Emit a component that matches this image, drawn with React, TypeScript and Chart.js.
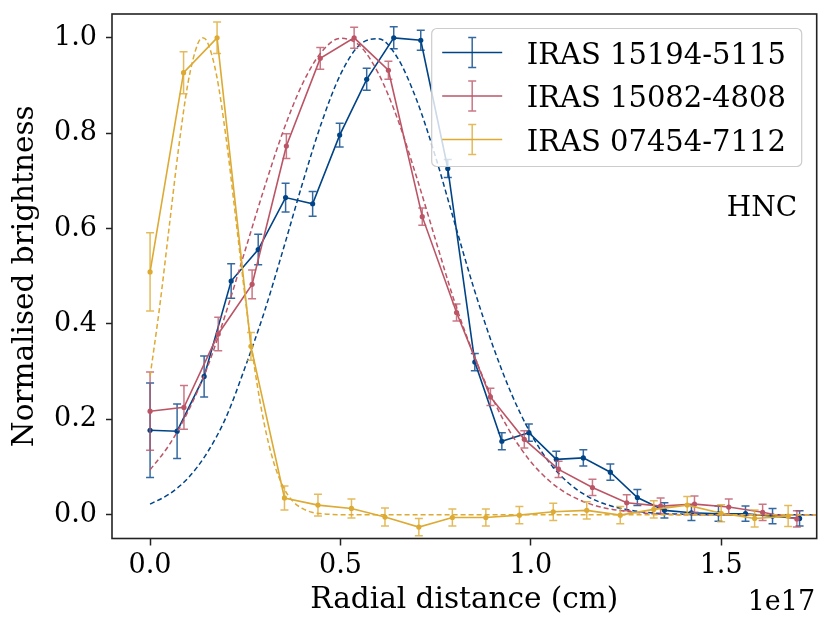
import React, { useEffect, useRef } from 'react';
import { Chart, registerables } from 'chart.js';

Chart.register(...registerables);

const FONT = "'DejaVu Serif', 'Liberation Serif', serif";

const seriesNames = ['IRAS 15194-5115', 'IRAS 15082-4808', 'IRAS 07454-7112'];
const seriesColors = ['#004488', '#BB5566', '#DDAA33'];
const errorColors = ['rgba(0,68,136,0.8)', 'rgba(187,85,102,0.8)', 'rgba(221,170,51,0.8)'];

const xTicks = [0, 0.5, 1.0, 1.5];
const yTicks = [0, 0.2, 0.4, 0.6, 0.8, 1.0];

// measured profiles (x in units of 1e17 cm)
const blueX = [0, 0.071, 0.142, 0.213, 0.284, 0.356, 0.427, 0.498, 0.569, 0.640, 0.711, 0.782, 0.853,
  0.924, 0.995, 1.067, 1.138, 1.209, 1.280, 1.351, 1.422, 1.493, 1.564, 1.635, 1.706];
const blueY = [0.177, 0.175, 0.29, 0.49, 0.556, 0.665, 0.652, 0.796, 0.913, 1.0, 0.995, 0.726, 0.32,
  0.154, 0.172, 0.116, 0.119, 0.089, 0.036, 0.009, 0.004, 0.002, 0.002, -0.003, -0.008];
const blueErr = [0.099, 0.057, 0.043, 0.036, 0.032, 0.030, 0.026, 0.025, 0.023, 0.023, 0.021, 0.019, 0.018,
  0.018, 0.018, 0.017, 0.017, 0.017, 0.017, 0.016, 0.016, 0.016, 0.016, 0.016, 0.016];

const redX = [0, 0.089, 0.179, 0.268, 0.358, 0.447, 0.536, 0.626, 0.715, 0.805, 0.894, 0.983, 1.073,
  1.162, 1.252, 1.341, 1.430, 1.520, 1.609, 1.699];
const redY = [0.217, 0.225, 0.379, 0.483, 0.773, 0.957, 1.0, 0.932, 0.625, 0.424, 0.247, 0.158, 0.095,
  0.057, 0.025, 0.018, 0.022, 0.016, 0.005, -0.009];
const redErr = [0.082, 0.046, 0.035, 0.030, 0.026, 0.023, 0.022, 0.019, 0.018, 0.018, 0.018, 0.018, 0.017,
  0.017, 0.017, 0.017, 0.017, 0.017, 0.017, 0.017];

const yellowX = [0, 0.088, 0.176, 0.265, 0.353, 0.441, 0.529, 0.617, 0.706, 0.794, 0.882, 0.970, 1.059,
  1.147, 1.235, 1.323, 1.411, 1.500, 1.588, 1.676];
const yellowY = [0.509, 0.927, 1.0, 0.353, 0.035, 0.020, 0.013, -0.005, -0.026, -0.006, -0.006, -0.001, 0.006,
  0.009, -0.001, 0.011, 0.020, 0.003, -0.008, -0.003];
const yellowErr = [0.082, 0.044, 0.033, 0.029, 0.025, 0.023, 0.020, 0.019, 0.018, 0.018, 0.018, 0.018, 0.018,
  0.018, 0.018, 0.018, 0.018, 0.018, 0.018, 0.022];

// dashed fits
const fitX = [0, 0.05, 0.1, 0.15, 0.2, 0.25, 0.3, 0.35, 0.4, 0.45, 0.5, 0.55, 0.6, 0.65, 0.7, 0.75, 0.8,
  0.85, 0.9, 0.95, 1.0, 1.05, 1.1, 1.15, 1.2, 1.25, 1.3, 1.35, 1.4, 1.45, 1.5, 1.55, 1.6, 1.65, 1.7, 1.75, 1.8];
const blueFit = [0.022, 0.043, 0.077, 0.13, 0.205, 0.31, 0.425, 0.557, 0.694, 0.821, 0.923, 0.985, 0.998,
  0.958, 0.870, 0.750, 0.612, 0.476, 0.355, 0.252, 0.170, 0.108, 0.066, 0.038, 0.021, 0.011, 0.005, 0.002,
  0.001, 0, 0, 0, 0, 0, 0, 0, 0];
const redFit = [0.094, 0.146, 0.217, 0.308, 0.425, 0.555, 0.685, 0.805, 0.903, 0.970, 0.999, 0.984, 0.925,
  0.830, 0.708, 0.576, 0.446, 0.336, 0.243, 0.168, 0.111, 0.070, 0.042, 0.024, 0.013, 0.007, 0.003, 0.001,
  0, 0, 0, 0, 0, 0, 0, 0, 0];
const yellowFitX = [0, 0.025, 0.05, 0.075, 0.1, 0.125, 0.1375, 0.15, 0.175, 0.2, 0.225, 0.25, 0.275, 0.3,
  0.325, 0.35, 0.375, 0.4, 0.425, 0.45, 0.5, 0.6, 1.0, 1.8];
const yellowFit = [0.290, 0.435, 0.602, 0.769, 0.907, 0.987, 1.0, 0.992, 0.920, 0.788, 0.622, 0.454, 0.305,
  0.190, 0.109, 0.058, 0.028, 0.013, 0.005, 0.002, 0, 0, 0, 0];

const toPts = (xs: number[], ys: number[]) => xs.map((x, i) => ({ x, y: ys[i] }));

const errorBars = {
  id: 'errorBars',
  beforeDatasetDraw(chart: any, args: any) {
    const ds = chart.data.datasets[args.index];
    if (!ds.errors) return;
    const { ctx, chartArea } = chart;
    const yScale = chart.scales.y;
    ctx.save();
    ctx.beginPath();
    ctx.rect(chartArea.left, chartArea.top, chartArea.right - chartArea.left, chartArea.bottom - chartArea.top);
    ctx.clip();
    ctx.strokeStyle = ds.errorColor;
    ctx.lineWidth = 1.5;
    args.meta.data.forEach((pt: any, i: number) => {
      const v = ds.data[i].y;
      const e = ds.errors[i];
      const y1 = yScale.getPixelForValue(v - e);
      const y2 = yScale.getPixelForValue(v + e);
      ctx.beginPath();
      ctx.moveTo(pt.x, y1);
      ctx.lineTo(pt.x, y2);
      ctx.moveTo(pt.x - 4, y1);
      ctx.lineTo(pt.x + 4, y1);
      ctx.moveTo(pt.x - 4, y2);
      ctx.lineTo(pt.x + 4, y2);
      ctx.stroke();
    });
    ctx.restore();
  },
};

const decorations = {
  id: 'decorations',
  afterDatasetsDraw(chart: any) {
    const { ctx, chartArea: a } = chart;
    ctx.save();
    ctx.strokeStyle = '#222';
    ctx.lineWidth = 1.6;
    ctx.strokeRect(a.left, a.top, a.right - a.left, a.bottom - a.top);
    ctx.restore();
  },
  afterDraw(chart: any) {
    const { ctx, chartArea: a } = chart;
    ctx.save();
    // legend box
    const bx = a.right - 385;
    const by = a.top + 14.5;
    const bw = 370;
    const bh = 138;
    ctx.beginPath();
    ctx.roundRect(bx, by, bw, bh, 5);
    ctx.fillStyle = 'rgba(255,255,255,0.8)';
    ctx.fill();
    ctx.strokeStyle = '#cccccc';
    ctx.lineWidth = 1.2;
    ctx.stroke();
    ctx.font = `29px ${FONT}`;
    ctx.textBaseline = 'alphabetic';
    ctx.textAlign = 'left';
    seriesNames.forEach((name, i) => {
      const y = by + 24 + i * 43.5;
      const lx = bx + 10.5;
      ctx.strokeStyle = seriesColors[i];
      ctx.lineWidth = 1.6;
      ctx.beginPath();
      ctx.moveTo(lx, y);
      ctx.lineTo(lx + 60, y);
      ctx.stroke();
      ctx.strokeStyle = errorColors[i];
      ctx.lineWidth = 1.5;
      ctx.beginPath();
      ctx.moveTo(lx + 30, y - 15);
      ctx.lineTo(lx + 30, y + 15);
      ctx.moveTo(lx + 26, y - 15);
      ctx.lineTo(lx + 34, y - 15);
      ctx.moveTo(lx + 26, y + 15);
      ctx.lineTo(lx + 34, y + 15);
      ctx.stroke();
      ctx.fillStyle = '#000';
      ctx.fillText(name, bx + 95, y + 11);
    });
    // annotation and offset text
    ctx.fillStyle = '#000';
    ctx.textAlign = 'right';
    ctx.font = `28px ${FONT}`;
    ctx.fillText('HNC', a.right - 19.5, a.top + 202);
    ctx.font = `27px ${FONT}`;
    ctx.fillText('1e17', a.right - 1.5, 609.5);
    ctx.restore();
  },
};

export default function App() {
  const ref = useRef<HTMLCanvasElement | null>(null);

  useEffect(() => {
    if (!ref.current) return;

    const dataSet = (i: number, xs: number[], ys: number[], errs: number[], order: number) => ({
      label: seriesNames[i],
      data: toPts(xs, ys),
      errors: errs,
      errorColor: errorColors[i],
      borderColor: seriesColors[i],
      backgroundColor: seriesColors[i],
      borderWidth: 1.6,
      pointRadius: 2.6,
      pointBorderWidth: 0,
      pointBackgroundColor: seriesColors[i],
      tension: 0,
      clip: 0,
      order,
    });
    const fitSet = (i: number, xs: number[], ys: number[], order: number) => ({
      label: seriesNames[i] + ' fit',
      data: toPts(xs, ys),
      borderColor: seriesColors[i],
      borderWidth: 1.5,
      borderDash: [5, 3],
      pointRadius: 0,
      cubicInterpolationMode: 'monotone',
      clip: 0,
      order,
    });

    const tickFont = { family: FONT, size: 27 };
    const titleFont = { family: FONT, size: 29.5 };

    const chart = new Chart(ref.current, {
      type: 'line',
      data: {
        datasets: [
          dataSet(0, blueX, blueY, blueErr, 6),
          fitSet(0, fitX, blueFit, 5),
          dataSet(1, redX, redY, redErr, 4),
          fitSet(1, fitX, redFit, 3),
          dataSet(2, yellowX, yellowY, yellowErr, 2),
          fitSet(2, yellowFitX, yellowFit, 1),
        ] as any,
      },
      options: {
        responsive: false,
        animation: false,
        layout: { padding: { top: 14, right: 14.3, bottom: 0, left: 0 } },
        plugins: {
          legend: { display: false },
          tooltip: { enabled: false },
        },
        scales: {
          x: {
            type: 'linear',
            min: -0.1,
            max: 1.751,
            afterBuildTicks: (s: any) => { s.ticks = xTicks.map((value) => ({ value })); },
            afterFit: (s: any) => {
              s.height = 93.5;
              s.paddingLeft = 0; s.paddingRight = 0; s.paddingTop = 0; s.paddingBottom = 0;
            },
            border: { display: false },
            grid: { drawOnChartArea: false, drawTicks: true, tickLength: 7, tickWidth: 1.5, tickColor: '#222' },
            ticks: { color: '#000', font: tickFont, padding: 4, maxRotation: 0, callback: (v: any) => Number(v).toFixed(1) },
            title: { display: true, text: 'Radial distance (cm)', color: '#000', font: titleFont, padding: { top: 0, bottom: 13.5 } },
          },
          y: {
            type: 'linear',
            min: -0.05,
            max: 1.05,
            afterBuildTicks: (s: any) => { s.ticks = yTicks.map((value) => ({ value })); },
            afterFit: (s: any) => {
              s.width = 112;
              s.paddingLeft = 0; s.paddingRight = 0; s.paddingTop = 0; s.paddingBottom = 0;
            },
            border: { display: false },
            grid: { drawOnChartArea: false, drawTicks: true, tickLength: 6, tickWidth: 1.5, tickColor: '#222' },
            ticks: { color: '#000', font: tickFont, padding: 9, callback: (v: any) => Number(v).toFixed(1) },
            title: { display: true, text: 'Normalised brightness', color: '#000', font: titleFont, padding: { top: 8, bottom: 0 } },
          },
        },
      },
      plugins: [errorBars, decorations],
    });

    return () => chart.destroy();
  }, []);

  return (
    <div style={{ position: 'absolute', left: 0, top: 0, width: 831, height: 632, background: '#fff' }}>
      <canvas ref={ref} width={831} height={632} style={{ width: 831, height: 632, display: 'block' }} />
    </div>
  );
}
